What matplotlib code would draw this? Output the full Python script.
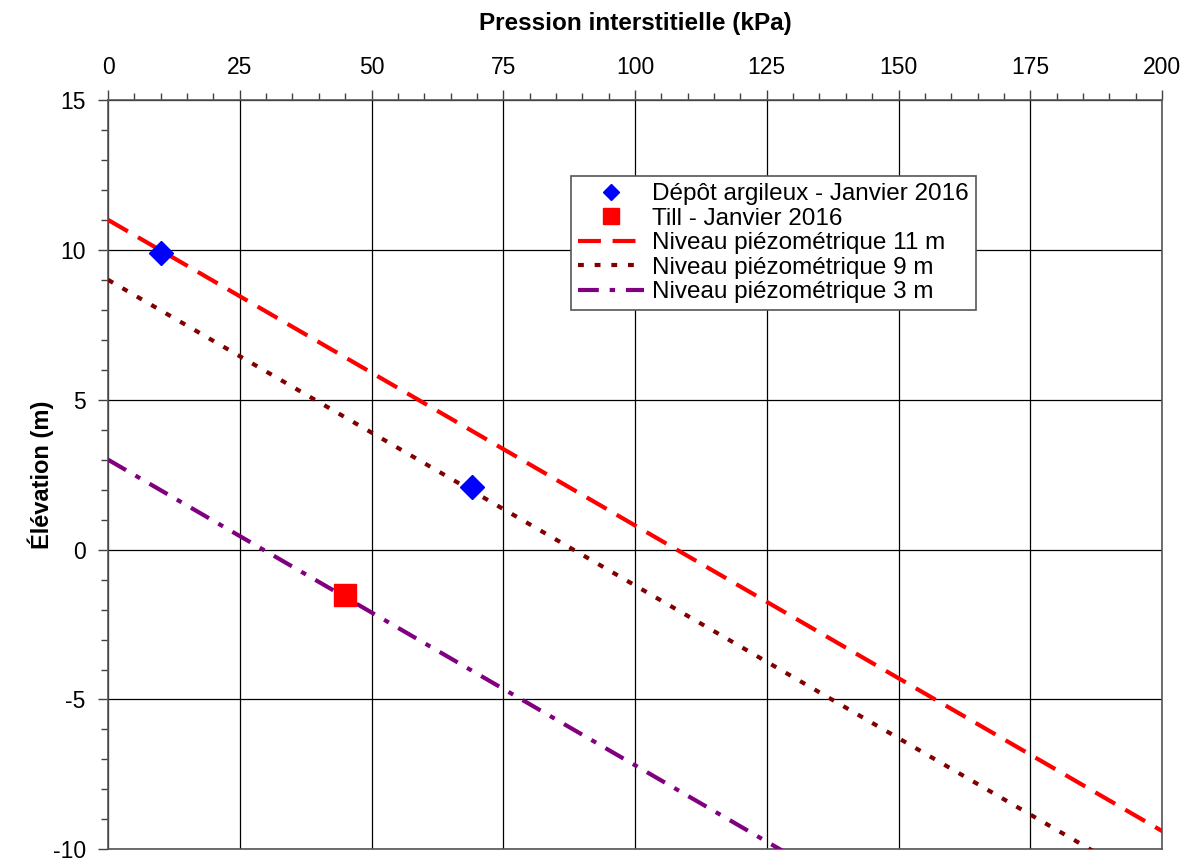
import numpy as np
import matplotlib
matplotlib.use("Agg")
import matplotlib.pyplot as plt
from matplotlib.ticker import MultipleLocator

plt.rcParams['font.family'] = ['Liberation Sans', 'DejaVu Sans']
plt.rcParams['axes.unicode_minus'] = False

# Data
gamma_w = 9.81
levels = [11, 9, 3]
level_labels = ["Niveau piézométrique 11 m", "Niveau piézométrique 9 m", "Niveau piézométrique 3 m"]
level_colors = ["#FF0000", "#800000", "#800080"]
depot_p = [10.0, 69.0]
depot_z = [9.9, 2.1]
till_p = [45.0]
till_z = [-1.5]

fig = plt.figure(figsize=(11.95, 8.61), dpi=100)
ax = fig.add_axes([0.0904, 0.0135, 0.882, 0.8704])

styles = [
    dict(dashes=(5.5, 2.8)),
    dict(dashes=(1.4, 2.6)),
    dict(dashes=(5.0, 2.6, 1.3, 2.6)),
]
for lvl, lab, col, st in zip(levels, level_labels, level_colors, styles):
    z = np.array([lvl, -10.5])
    p = (lvl - z) * gamma_w
    ax.plot(p, z, color=col, lw=3, label=lab, dash_capstyle='butt', **st, zorder=3)

ax.plot(depot_p, depot_z, 'D', color='#0000FF', markersize=12, ls='none',
        label="Dépôt argileux - Janvier 2016", zorder=4)
ax.plot(till_p, till_z, 's', color='#FF0000', markersize=15.5, ls='none',
        label="Till - Janvier 2016", zorder=4)

ax.set_xlim(0, 200)
ax.set_ylim(-10, 15)
ax.xaxis.set_major_locator(MultipleLocator(25))
ax.xaxis.set_minor_locator(MultipleLocator(5))
ax.yaxis.set_major_locator(MultipleLocator(5))
ax.yaxis.set_minor_locator(MultipleLocator(1))
ax.xaxis.tick_top()
ax.xaxis.set_label_position('top')
ax.tick_params(axis='both', which='major', direction='out', length=7, width=1, labelsize=16.5, color='#404040')
ax.tick_params(axis='both', which='minor', direction='out', length=5, width=1, color='#404040')
ax.tick_params(axis='x', pad=8)
ax.tick_params(axis='y', pad=9)
ax.grid(True, which='major', color='black', lw=0.9)
for s in ax.spines.values():
    s.set_color('#555555')
    s.set_linewidth(1.2)

ax.set_xlabel("Pression interstitielle (kPa)", fontsize=17.5, fontweight='bold', labelpad=19)
ax.set_ylabel("Élévation (m)", fontsize=17, fontweight='bold', labelpad=-1)

handles, labels = ax.get_legend_handles_labels()
order = [3, 4, 0, 1, 2]
leg = ax.legend([handles[i] for i in order], [labels[i] for i in order],
                loc='upper left', bbox_to_anchor=(0.4393, 0.8985), fontsize=17.5,
                frameon=True, fancybox=False, edgecolor='#555555', framealpha=1,
                borderpad=0.3, labelspacing=0.1, handlelength=2.7, handletextpad=0.35,
                borderaxespad=0, markerscale=0.72)
leg.get_frame().set_linewidth(1.2)

fig.savefig("out.png", dpi=100)
